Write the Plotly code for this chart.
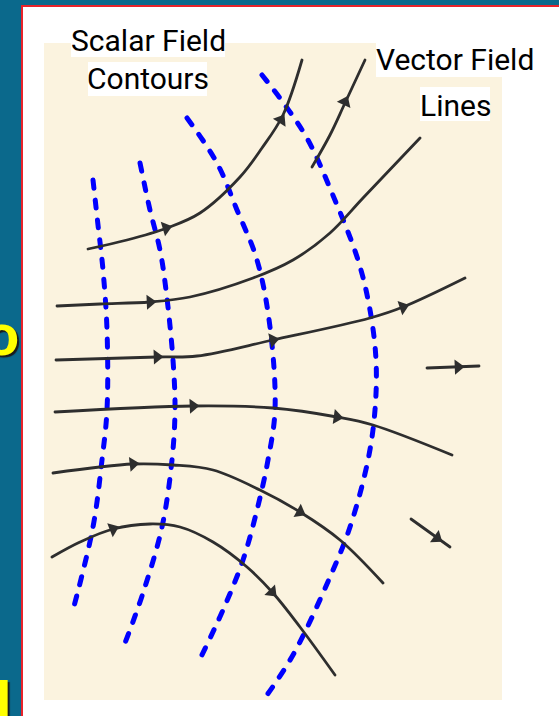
import math
import plotly.graph_objects as go

# ---------------- data (diagram coordinates, y grows downward) ----------------
contour_1_x = [93, 98, 103, 107, 107, 102, 93, 73]
contour_1_y = [180, 225, 270, 330, 410, 460, 527, 610]
contour_2_x = [140, 150, 160, 166, 173, 175, 172, 162, 143, 125]
contour_2_y = [163, 210, 250, 290, 360, 410, 460, 527, 593, 643]
contour_3_x = [187, 217, 237, 257, 270, 275, 268, 257, 243, 223, 198]
contour_3_y = [118, 163, 210, 260, 327, 410, 460, 510, 560, 610, 663]
contour_4_x = [262, 285, 308, 332, 358, 370, 376, 375, 368, 350, 330, 293, 262]
contour_4_y = [75, 105, 140, 193, 260, 310, 360, 410, 460, 527, 577, 655, 702]

line_a_x = [88, 127, 167, 200, 240, 262, 283, 302]
line_a_y = [249, 240, 228, 213, 177, 148, 115, 60]
line_b_x = [312, 330, 345, 365]
line_b_y = [167, 135, 103, 60]
line_c_x = [57, 100, 150, 190, 253, 293, 330, 363, 420]
line_c_y = [306, 304, 302, 297, 278, 260, 233, 198, 138]
line_d_x = [56, 157, 197, 273, 370, 403, 465]
line_d_y = [360, 357, 356, 340, 318, 307, 278]
line_e_x = [427, 479]
line_e_y = [368, 366]
line_f_x = [55, 193, 273, 337, 373, 452]
line_f_y = [412, 406, 408, 417, 425, 455]
line_g_x = [53, 133, 173, 213, 260, 300, 340, 383]
line_g_y = [473, 464, 465, 470, 490, 512, 540, 583]
line_h_x = [411, 450]
line_h_y = [519, 547]
line_i_x = [52, 80, 113, 150, 180, 213, 247, 273, 300, 335]
line_i_y = [557, 542, 529, 524, 527, 542, 567, 593, 627, 675]

# arrowhead positions on each field line
arrows_a = [(166, 228), (281, 120)]
arrows_b = [(345, 102)]
arrows_c = [(150, 302)]
arrows_d = [(157, 357), (273, 340), (403, 307)]
arrows_e = [(458, 367)]
arrows_f = [(193, 406), (337, 417)]
arrows_g = [(133, 464), (300, 512)]
arrows_h = [(437, 538)]
arrows_i = [(113, 529), (272, 592)]

label_scalar = ["Scalar Field", "Contours"]
label_vector = ["Vector Field", "Lines"]

contours = [(contour_1_x, contour_1_y), (contour_2_x, contour_2_y),
            (contour_3_x, contour_3_y), (contour_4_x, contour_4_y)]
field_lines = [
    (line_a_x, line_a_y, arrows_a), (line_b_x, line_b_y, arrows_b),
    (line_c_x, line_c_y, arrows_c), (line_d_x, line_d_y, arrows_d),
    (line_e_x, line_e_y, arrows_e), (line_f_x, line_f_y, arrows_f),
    (line_g_x, line_g_y, arrows_g), (line_h_x, line_h_y, arrows_h),
    (line_i_x, line_i_y, arrows_i),
]

W, H = 559, 716
BLUE_BG = "#0b698c"
PAPER = "#fbf3df"
INK = "#2e2e2e"

fig = go.Figure()


def direction_angle(xs, ys, px, py):
    best = None
    for k in range(len(xs) - 1):
        x0, y0, x1, y1 = xs[k], ys[k], xs[k + 1], ys[k + 1]
        dx, dy = x1 - x0, y1 - y0
        L2 = dx * dx + dy * dy
        t = max(0, min(1, ((px - x0) * dx + (py - y0) * dy) / L2))
        d = (x0 + t * dx - px) ** 2 + (y0 + t * dy - py) ** 2
        if best is None or d < best[0]:
            best = (d, dx, dy)
    _, dx, dy = best
    # screen: y grows downward; marker angle is clockwise from "up"
    return math.degrees(math.atan2(dx, -dy))


for xs, ys in contours:
    fig.add_trace(go.Scatter(
        x=xs, y=ys, mode="lines",
        line=dict(color="#0000ff", width=5, dash="8px,12px", shape="spline", smoothing=1.0),
        hoverinfo="skip", showlegend=False))

for xs, ys, arrs in field_lines:
    fig.add_trace(go.Scatter(
        x=xs, y=ys, mode="lines",
        line=dict(color=INK, width=2.8, shape="spline", smoothing=1.0),
        hoverinfo="skip", showlegend=False))
    ax = [a[0] for a in arrs]
    ay = [a[1] for a in arrs]
    ang = [direction_angle(xs, ys, a[0], a[1]) for a in arrs]
    fig.add_trace(go.Scatter(
        x=ax, y=ay, mode="markers",
        marker=dict(symbol="triangle-up", size=13, angle=ang, color=INK,
                    line=dict(width=0)),
        hoverinfo="skip", showlegend=False))

shapes = [
    # white slide panel with red border
    dict(type="rect", xref="x", yref="y", x0=22, x1=600, y0=6, y1=760,
         fillcolor="white", line=dict(color="#e8232a", width=2), layer="below"),
    # paper figure
    dict(type="rect", xref="x", yref="y", x0=44, x1=502, y0=43, y1=700,
         fillcolor=PAPER, line=dict(width=0), layer="below"),
    # white label boxes
    dict(type="rect", xref="x", yref="y", x0=71, x1=225, y0=22, y1=57,
         fillcolor="white", line=dict(width=0), layer="below"),
    dict(type="rect", xref="x", yref="y", x0=88, x1=207, y0=62, y1=96,
         fillcolor="white", line=dict(width=0), layer="below"),
    dict(type="rect", xref="x", yref="y", x0=376, x1=533, y0=41, y1=77,
         fillcolor="white", line=dict(width=0), layer="below"),
    dict(type="rect", xref="x", yref="y", x0=420, x1=490, y0=87, y1=121,
         fillcolor="white", line=dict(width=0), layer="below"),
]

label_font = dict(family="Roboto, Liberation Sans, Arial, sans-serif",
                  size=30, color="black")
annotations = [
    dict(x=148, y=40, text=label_scalar[0], showarrow=False, xref="x", yref="y",
         xanchor="center", yanchor="middle", font=label_font),
    dict(x=148, y=78, text=label_scalar[1], showarrow=False, xref="x", yref="y",
         xanchor="center", yanchor="middle", font=label_font),
    dict(x=455, y=59, text=label_vector[0], showarrow=False, xref="x", yref="y",
         xanchor="center", yanchor="middle", font=label_font),
    dict(x=455, y=105, text=label_vector[1], showarrow=False, xref="x", yref="y",
         xanchor="center", yanchor="middle", font=label_font),
    # fragments of slide text at the left edge
    dict(x=1, y=334, text="<b>o</b>", showarrow=False, xref="x", yref="y",
         xanchor="center", yanchor="middle",
         font=dict(family="Liberation Sans, Arial, sans-serif", size=58, color="#ffff00",
                   shadow="2px 2px 1px #1a1a1a")),
    dict(x=4, y=700, text="<b>l</b>", showarrow=False, xref="x", yref="y",
         xanchor="center", yanchor="middle",
         font=dict(family="Liberation Sans, Arial, sans-serif", size=56, color="#ffff00",
                   shadow="2px 2px 1px #1a1a1a")),
]

fig.update_layout(
    width=W, height=H, margin=dict(l=0, r=0, t=0, b=0, pad=0),
    paper_bgcolor=BLUE_BG, plot_bgcolor="rgba(0,0,0,0)",
    xaxis=dict(range=[0, W], visible=False, fixedrange=True),
    yaxis=dict(range=[H, 0], visible=False, fixedrange=True),
    shapes=shapes, annotations=annotations, showlegend=False,
)

post = (
    "document.body.style.margin='0';document.body.style.overflow='hidden';"
    "document.querySelectorAll('path.js-line').forEach(function(p){p.style.strokeLinecap='round';});"
)
fig.write_html("out.html", config={"displayModeBar": False}, post_script=post)
